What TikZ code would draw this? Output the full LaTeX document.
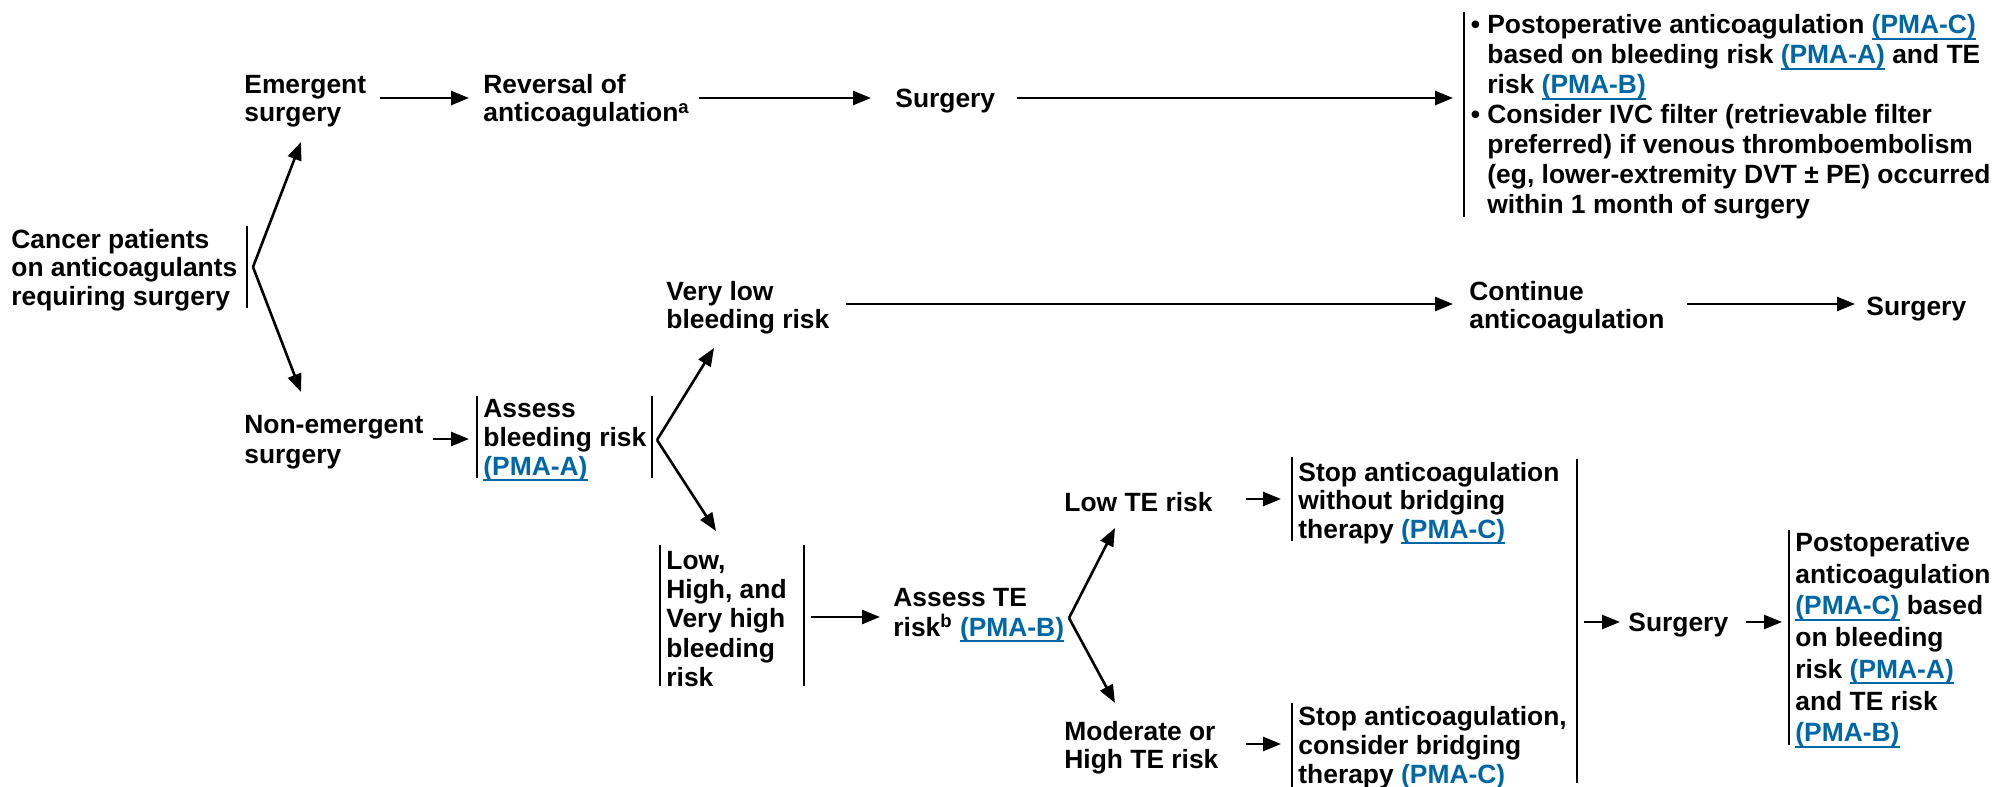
\documentclass[tikz,border=0pt]{standalone}
\usepackage{fontspec}
\setmainfont{Liberation Sans}
\usetikzlibrary{arrows.meta}
\definecolor{lnk}{RGB}{0,103,166}
\newsavebox\lnkbox
\newcommand\lnk[1]{{\color{lnk}\sbox\lnkbox{#1}\rlap{\rule[-2.9pt]{\wd\lnkbox}{0.9pt}}\usebox\lnkbox}}
\begin{document}
\begin{tikzpicture}[x=0.5pt,y=-0.5pt,
  txt/.style={anchor=west,inner sep=0pt,align=left,font=\bfseries\fontsize{13.2}{#1}\selectfont},
  txt/.default=14.25pt,
  arr/.style={line width=1.3pt,-{Triangle[length=9pt,width=7pt]}},
  bar/.style={line width=1pt}]
\fill[white] (0,0) rectangle (1999,787);
\useasboundingbox (0,0) rectangle (1999,787);

% nodes
\node[txt=14.25pt] (A) at (11,270) {Cancer patients\\on anticoagulants\\requiring surgery};
\node[txt=14pt] (E) at (244,101) {Emergent\\surgery};
\node[txt=14pt] (R) at (483,101) {Reversal of\\anticoagulation\textsuperscript{a}};
\node[txt] (S1) at (895,101) {Surgery};
\node[txt=15pt] (T) at (1487,117) {\llap{• }Postoperative anticoagulation \lnk{(PMA-C)}\\
based on bleeding risk \lnk{(PMA-A)} and TE\\
risk \lnk{(PMA-B)}\\
\llap{• }Consider IVC filter (retrievable filter\\
preferred) if venous thromboembolism\\
(eg, lower-extremity DVT ± PE) occurred\\
within 1 month of surgery};
\node[txt=14pt] (VL) at (666,308) {Very low\\bleeding risk};
\node[txt=14pt] (C) at (1469,308) {Continue\\anticoagulation};
\node[txt] (S2) at (1866,309) {Surgery};
\node[txt=14.75pt] (N) at (244,442) {Non-emergent\\surgery};
\node[txt=14.5pt] (AB) at (483,440) {Assess\\bleeding risk\\\lnk{(PMA-A)}};
\node[txt=14.6pt] (L) at (666,619) {Low,\\High, and\\Very high\\bleeding\\risk};
\node[txt=15pt] (AT) at (893,615) {Assess TE\\risk\textsuperscript{b} \lnk{(PMA-B)}};
\node[txt] (LT) at (1064,502) {Low TE risk};
\node[txt=14.25pt] (ST1) at (1298,503) {Stop anticoagulation\\without bridging\\therapy \lnk{(PMA-C)}};
\node[txt=14pt] (MT) at (1064,748) {Moderate or\\High TE risk};
\node[txt=14.5pt] (ST2) at (1298,748) {Stop anticoagulation,\\consider bridging\\therapy \lnk{(PMA-C)}};
\node[txt] (S3) at (1628,625) {Surgery};
\node[txt=15.85pt] (F) at (1795,640) {Postoperative\\anticoagulation\\\lnk{(PMA-C)} based\\on bleeding\\risk \lnk{(PMA-A)}\\and TE risk\\\lnk{(PMA-B)}};

% brackets
\draw[bar] (247,226) -- (247,308);
\draw[bar] (1464,12) -- (1464,217);
\draw[bar] (477,396) -- (477,478);
\draw[bar] (652,396) -- (652,478);
\draw[bar] (660,545) -- (660,686);
\draw[bar] (804,545) -- (804,686);
\draw[bar] (1292,457) -- (1292,541);
\draw[bar] (1292,703) -- (1292,790);
\draw[bar] (1577,459) -- (1577,783);
\draw[bar] (1789,530) -- (1789,745);

% branch points and tips
\coordinate (br0) at (253,267);
\coordinate (tE) at (301,142);
\coordinate (tN) at (301,392);
\coordinate (br1) at (657,440);
\coordinate (tVL) at (714,348);
\coordinate (tL) at (716,531);
\coordinate (br2) at (1069,618);
\coordinate (tLT) at (1115,528);
\coordinate (tMT) at (1115,703);
\coordinate (bbm) at (1577,622);

\draw[arr] (br0) -- (tE);
\draw[arr] (br0) -- (tN);
\draw[arr] (br1) -- (tVL);
\draw[arr] (br1) -- (tL);
\draw[arr] (br2) -- (tLT);
\draw[arr] (br2) -- (tMT);

% horizontal connectors
\draw[arr] ([shift={(13,-3)}]E.east) -- ([shift={(-14,-3)}]R.west);
\draw[arr] ([shift={(9,-3)}]R.east) -- ([shift={(-24,-3)}]S1.west);
\draw[arr] ([shift={(21,-3)}]S1.east) -- ([shift={(-34,-19)}]T.west);
\draw[arr] ([shift={(16,-4)}]VL.east) -- ([shift={(-16,-4)}]C.west);
\draw[arr] ([shift={(22,-4)}]C.east) -- ([shift={(-11,-5)}]S2.west);
\draw[arr] ([shift={(9,-3)}]N.east) -- ([shift={(-14,-1)}]AB.west);
\draw[arr] ([shift={(24,-2)}]L.east) -- ([shift={(-13,2)}]AT.west);
\draw[arr] ([shift={(33,-3)}]LT.east) -- ([shift={(-17,-4)}]ST1.west);
\draw[arr] ([shift={(27,-4)}]MT.east) -- ([shift={(-17,-4)}]ST2.west);
\draw[arr] ([shift={(7,0)}]bbm) -- ([shift={(-8,-3)}]S3.west);
\draw[arr] ([shift={(17,-3)}]S3.east) -- ([shift={(-13,-18)}]F.west);
\end{tikzpicture}
\end{document}
